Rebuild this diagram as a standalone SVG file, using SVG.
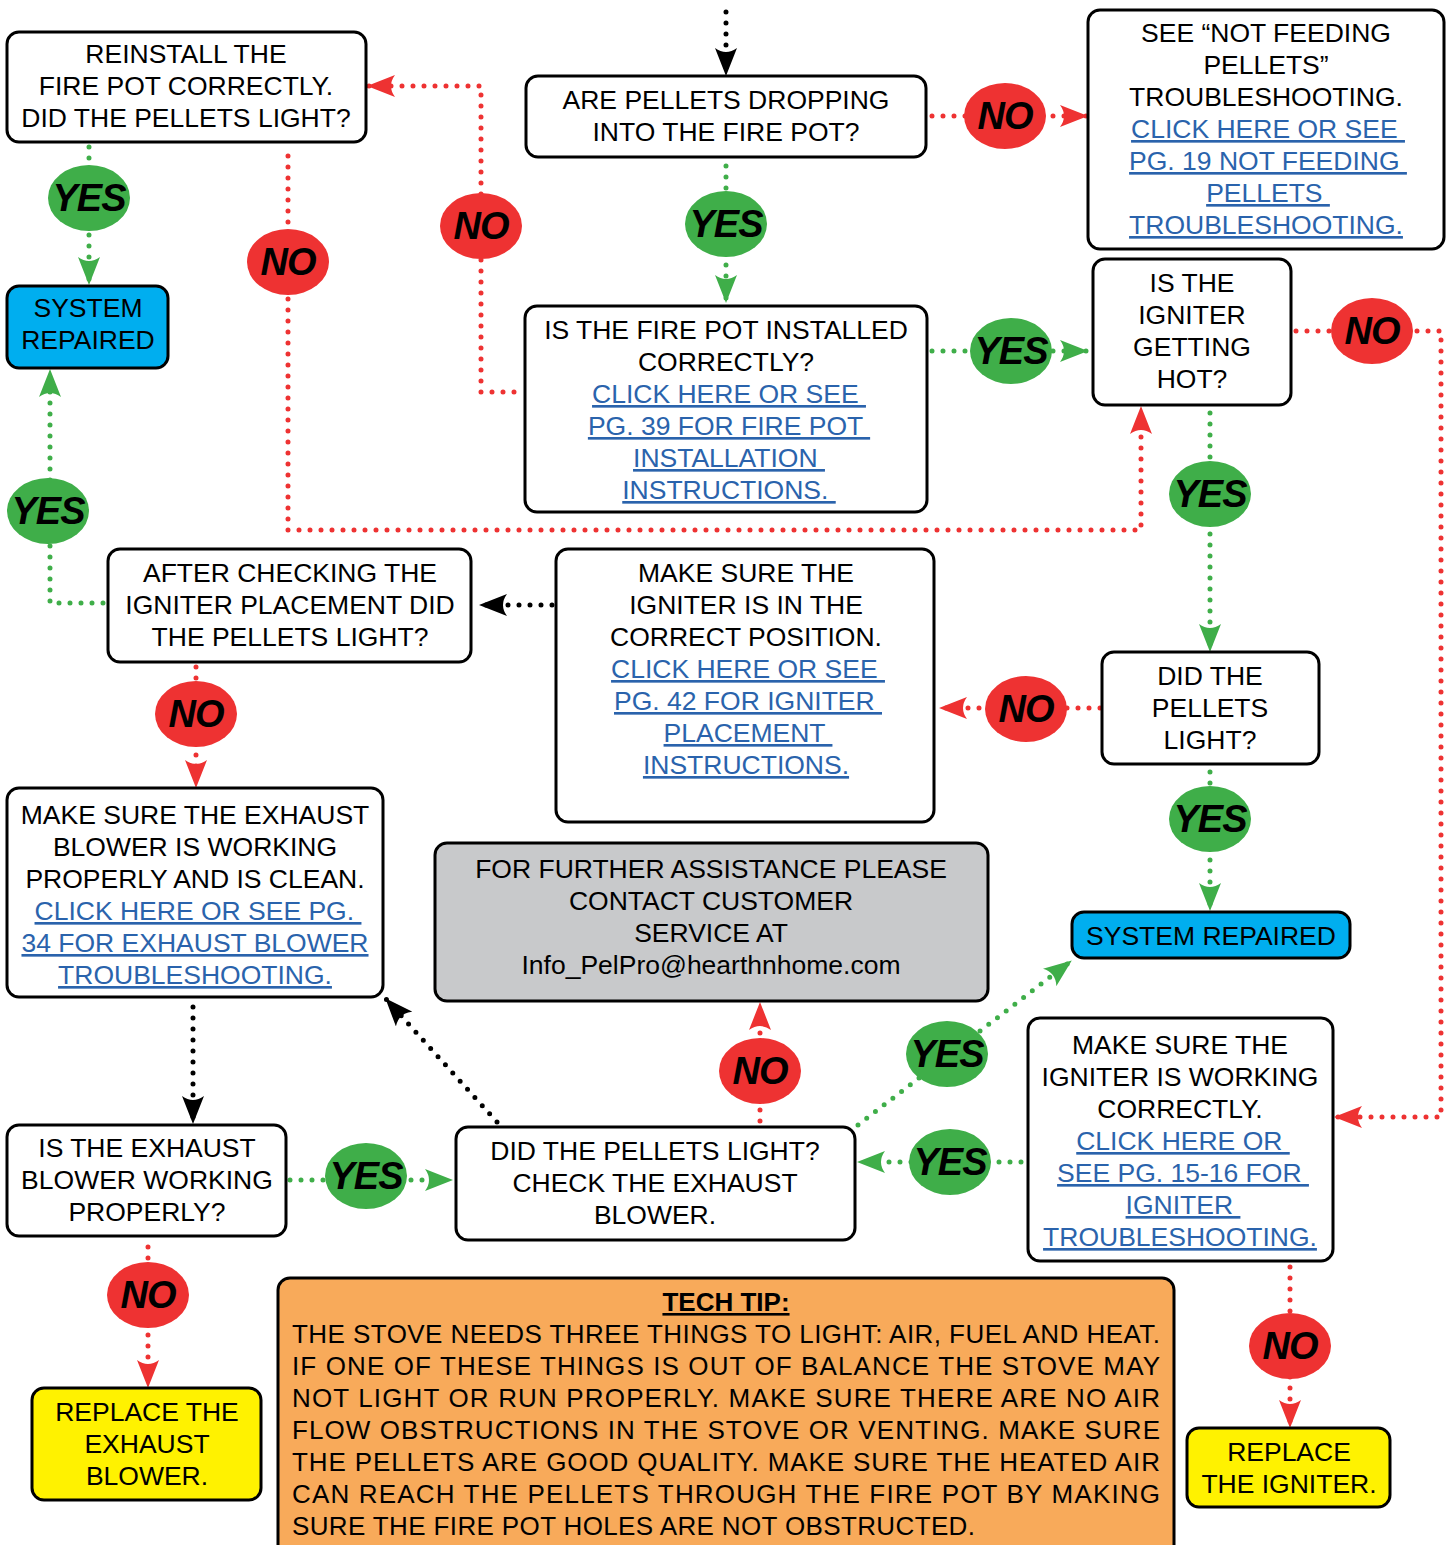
<svg xmlns="http://www.w3.org/2000/svg" width="1449" height="1545" viewBox="0 0 1449 1545">
<style>
.box{fill:#fff;stroke:#000;stroke-width:3}
.blue{fill:#00aeef;stroke:#000;stroke-width:3}
.yel{fill:#fff200;stroke:#000;stroke-width:3}
.gry{fill:#c8c9cb;stroke:#000;stroke-width:3}
.org{fill:#f8aa5a;stroke:#000;stroke-width:3}
.t{font-family:"Liberation Sans",Arial,sans-serif;font-size:26.5px;text-anchor:middle;fill:#000}
.lk{fill:#2a63ac;text-decoration:underline}
.tip{font-family:"Liberation Sans",Arial,sans-serif;font-size:26px;fill:#000}
.lbl{font-family:"Liberation Sans",Arial,sans-serif;font-size:38px;font-weight:bold;font-style:italic;text-anchor:middle;fill:#000;letter-spacing:-1px}
.d{fill:none;stroke-width:5;stroke-linecap:round;stroke-dasharray:0 11}
.k{stroke:#000}
.r{stroke:#ee3232}
.g{stroke:#3fae49}
.ye{fill:#3fae49}
.no{fill:#ee3232}
</style>
<defs>
<marker id="mk" viewBox="0 0 28 22" refX="27" refY="11" markerWidth="28" markerHeight="22" markerUnits="userSpaceOnUse" orient="auto"><path d="M28,11 L0,0 Q8,11 0,22 Z" fill="#000"/></marker>
<marker id="mr" viewBox="0 0 28 22" refX="27" refY="11" markerWidth="28" markerHeight="22" markerUnits="userSpaceOnUse" orient="auto"><path d="M28,11 L0,0 Q8,11 0,22 Z" fill="#ee3232"/></marker>
<marker id="mg" viewBox="0 0 28 22" refX="27" refY="11" markerWidth="28" markerHeight="22" markerUnits="userSpaceOnUse" orient="auto"><path d="M28,11 L0,0 Q8,11 0,22 Z" fill="#3fae49"/></marker>
</defs>
<rect width="1449" height="1545" fill="#fff"/>

<g id="connectors">
<path class="d k" d="M726,12 V75" marker-end="url(#mk)"/>
<path class="d k" d="M552,605 H480" marker-end="url(#mk)"/>
<path class="d k" d="M193,1007 V1123" marker-end="url(#mk)"/>
<path class="d k" d="M497,1122 L386,999" marker-end="url(#mk)"/>
<path class="d r" d="M932,116 H1087" marker-end="url(#mr)"/>
<path class="d r" d="M514,392 H481 V86 H368" marker-end="url(#mr)"/>
<path class="d r" d="M288,156 V530 H1141 V407" marker-end="url(#mr)"/>
<path class="d r" d="M1296,331 H1441 V1117 H1335" marker-end="url(#mr)"/>
<path class="d r" d="M196,667 V787" marker-end="url(#mr)"/>
<path class="d r" d="M1100,708 H940" marker-end="url(#mr)"/>
<path class="d r" d="M760,1121 V1003" marker-end="url(#mr)"/>
<path class="d r" d="M148,1247 V1387" marker-end="url(#mr)"/>
<path class="d r" d="M1290,1267 V1427" marker-end="url(#mr)"/>
<path class="d g" d="M89,147 V284" marker-end="url(#mg)"/>
<path class="d g" d="M726,166 V302" marker-end="url(#mg)"/>
<path class="d g" d="M932,351 H1087" marker-end="url(#mg)"/>
<path class="d g" d="M103,603 H50 V370" marker-end="url(#mg)"/>
<path class="d g" d="M1210,413 V651" marker-end="url(#mg)"/>
<path class="d g" d="M1210,772 V910" marker-end="url(#mg)"/>
<path class="d g" d="M858,1125 L1071,961" marker-end="url(#mg)"/>
<path class="d g" d="M1021,1162 H858" marker-end="url(#mg)"/>
<path class="d g" d="M290,1180 H452" marker-end="url(#mg)"/>
<g id="labels">
<ellipse class="ye" cx="89" cy="198" rx="41" ry="33"/><text class="lbl" x="89" y="211">YES</text>
<ellipse class="no" cx="288" cy="262" rx="41" ry="33"/><text class="lbl" x="288" y="275">NO</text>
<ellipse class="no" cx="481" cy="226" rx="41" ry="33"/><text class="lbl" x="481" y="239">NO</text>
<ellipse class="ye" cx="726" cy="224" rx="41" ry="33"/><text class="lbl" x="726" y="237">YES</text>
<ellipse class="no" cx="1005" cy="116" rx="41" ry="33"/><text class="lbl" x="1005" y="129">NO</text>
<ellipse class="ye" cx="1011" cy="351" rx="41" ry="33"/><text class="lbl" x="1011" y="364">YES</text>
<ellipse class="no" cx="1372" cy="331" rx="41" ry="33"/><text class="lbl" x="1372" y="344">NO</text>
<ellipse class="ye" cx="48" cy="511" rx="41" ry="33"/><text class="lbl" x="48" y="524">YES</text>
<ellipse class="ye" cx="1210" cy="494" rx="41" ry="33"/><text class="lbl" x="1210" y="507">YES</text>
<ellipse class="no" cx="196" cy="714" rx="41" ry="33"/><text class="lbl" x="196" y="727">NO</text>
<ellipse class="no" cx="1026" cy="709" rx="41" ry="33"/><text class="lbl" x="1026" y="722">NO</text>
<ellipse class="ye" cx="1210" cy="819" rx="41" ry="33"/><text class="lbl" x="1210" y="832">YES</text>
<ellipse class="ye" cx="947" cy="1054" rx="41" ry="33"/><text class="lbl" x="947" y="1067">YES</text>
<ellipse class="no" cx="760" cy="1071" rx="41" ry="33"/><text class="lbl" x="760" y="1084">NO</text>
<ellipse class="ye" cx="950" cy="1162" rx="41" ry="33"/><text class="lbl" x="950" y="1175">YES</text>
<ellipse class="ye" cx="366" cy="1176" rx="41" ry="33"/><text class="lbl" x="366" y="1189">YES</text>
<ellipse class="no" cx="148" cy="1295" rx="41" ry="33"/><text class="lbl" x="148" y="1308">NO</text>
<ellipse class="no" cx="1290" cy="1346" rx="41" ry="33"/><text class="lbl" x="1290" y="1359">NO</text>
</g>
</g>

<g id="n-reinstall">
<rect class="box" x="7" y="32" width="359" height="110" rx="12"/>
<text class="t"><tspan x="186" y="63">REINSTALL THE</tspan><tspan x="186" y="95">FIRE POT CORRECTLY.</tspan><tspan x="186" y="127">DID THE PELLETS LIGHT?</tspan></text>
</g>
<g id="n-dropping">
<rect class="box" x="526" y="76" width="400" height="81" rx="12"/>
<text class="t"><tspan x="726" y="109">ARE PELLETS DROPPING</tspan><tspan x="726" y="141">INTO THE FIRE POT?</tspan></text>
</g>
<g id="n-notfeeding">
<rect class="box" x="1088" y="10" width="356" height="239" rx="12"/>
<text class="t" xml:space="preserve"><tspan x="1266" y="42">SEE “NOT FEEDING</tspan><tspan x="1266" y="74">PELLETS”</tspan><tspan x="1266" y="106">TROUBLESHOOTING.</tspan><tspan class="lk" x="1268" y="138">CLICK HERE OR SEE </tspan><tspan class="lk" x="1268" y="170">PG. 19 NOT FEEDING </tspan><tspan class="lk" x="1268" y="202">PELLETS </tspan><tspan class="lk" x="1266" y="234">TROUBLESHOOTING.</tspan></text>
</g>
<g id="n-sysrep1">
<rect class="blue" x="7" y="286" width="161" height="82" rx="12"/>
<text class="t"><tspan x="88" y="317">SYSTEM</tspan><tspan x="88" y="349">REPAIRED</tspan></text>
</g>
<g id="n-firepot">
<rect class="box" x="525" y="306" width="402" height="206" rx="12"/>
<text class="t" xml:space="preserve"><tspan x="726" y="339">IS THE FIRE POT INSTALLED</tspan><tspan x="726" y="371">CORRECTLY?</tspan><tspan class="lk" x="729" y="403">CLICK HERE OR SEE </tspan><tspan class="lk" x="729" y="435">PG. 39 FOR FIRE POT </tspan><tspan class="lk" x="729" y="467">INSTALLATION </tspan><tspan class="lk" x="729" y="499">INSTRUCTIONS. </tspan></text>
</g>
<g id="n-hot">
<rect class="box" x="1093" y="259" width="198" height="146" rx="12"/>
<text class="t"><tspan x="1192" y="292">IS THE</tspan><tspan x="1192" y="324">IGNITER</tspan><tspan x="1192" y="356">GETTING</tspan><tspan x="1192" y="388">HOT?</tspan></text>
</g>
<g id="n-afterchk">
<rect class="box" x="108" y="549" width="363" height="113" rx="12"/>
<text class="t"><tspan x="290" y="582">AFTER CHECKING THE</tspan><tspan x="290" y="614">IGNITER PLACEMENT DID</tspan><tspan x="290" y="646">THE PELLETS LIGHT?</tspan></text>
</g>
<g id="n-position">
<rect class="box" x="556" y="549" width="378" height="273" rx="12"/>
<text class="t" xml:space="preserve"><tspan x="746" y="582">MAKE SURE THE</tspan><tspan x="746" y="614">IGNITER IS IN THE</tspan><tspan x="746" y="646">CORRECT POSITION.</tspan><tspan class="lk" x="748" y="678">CLICK HERE OR SEE </tspan><tspan class="lk" x="748" y="710">PG. 42 FOR IGNITER </tspan><tspan class="lk" x="748" y="742">PLACEMENT </tspan><tspan class="lk" x="746" y="774">INSTRUCTIONS.</tspan></text>
</g>
<g id="n-didlight">
<rect class="box" x="1102" y="652" width="217" height="112" rx="12"/>
<text class="t"><tspan x="1210" y="685">DID THE</tspan><tspan x="1210" y="717">PELLETS</tspan><tspan x="1210" y="749">LIGHT?</tspan></text>
</g>
<g id="n-sysrep2">
<rect class="blue" x="1072" y="912" width="278" height="46" rx="12"/>
<text class="t" x="1211" y="945">SYSTEM REPAIRED</text>
</g>
<g id="n-exhclean">
<rect class="box" x="7" y="788" width="376" height="209" rx="12"/>
<text class="t" xml:space="preserve"><tspan x="195" y="824">MAKE SURE THE EXHAUST</tspan><tspan x="195" y="856">BLOWER IS WORKING</tspan><tspan x="195" y="888">PROPERLY AND IS CLEAN.</tspan><tspan class="lk" x="198" y="920">CLICK HERE OR SEE PG. </tspan><tspan class="lk" x="195" y="952">34 FOR EXHAUST BLOWER</tspan><tspan class="lk" x="195" y="984">TROUBLESHOOTING.</tspan></text>
</g>
<g id="n-contact">
<rect class="gry" x="435" y="843" width="553" height="158" rx="12"/>
<text class="t"><tspan x="711" y="878">FOR FURTHER ASSISTANCE PLEASE</tspan><tspan x="711" y="910">CONTACT CUSTOMER</tspan><tspan x="711" y="942">SERVICE AT</tspan><tspan x="711" y="974">Info_PelPro@hearthnhome.com</tspan></text>
</g>
<g id="n-exhworking">
<rect class="box" x="7" y="1125" width="279" height="111" rx="12"/>
<text class="t"><tspan x="147" y="1157">IS THE EXHAUST</tspan><tspan x="147" y="1189">BLOWER WORKING</tspan><tspan x="147" y="1221">PROPERLY?</tspan></text>
</g>
<g id="n-checkexh">
<rect class="box" x="456" y="1127" width="399" height="113" rx="12"/>
<text class="t"><tspan x="655" y="1160">DID THE PELLETS LIGHT?</tspan><tspan x="655" y="1192">CHECK THE EXHAUST</tspan><tspan x="655" y="1224">BLOWER.</tspan></text>
</g>
<g id="n-ignworking">
<rect class="box" x="1028" y="1018" width="305" height="243" rx="12"/>
<text class="t" xml:space="preserve"><tspan x="1180" y="1054">MAKE SURE THE</tspan><tspan x="1180" y="1086">IGNITER IS WORKING</tspan><tspan x="1180" y="1118">CORRECTLY.</tspan><tspan class="lk" x="1183" y="1150">CLICK HERE OR </tspan><tspan class="lk" x="1183" y="1182">SEE PG. 15-16 FOR </tspan><tspan class="lk" x="1183" y="1214">IGNITER </tspan><tspan class="lk" x="1180" y="1246">TROUBLESHOOTING.</tspan></text>
</g>
<g id="n-replexh">
<rect class="yel" x="32" y="1388" width="229" height="112" rx="12"/>
<text class="t"><tspan x="147" y="1421">REPLACE THE</tspan><tspan x="147" y="1453">EXHAUST</tspan><tspan x="147" y="1485">BLOWER.</tspan></text>
</g>
<g id="n-replign">
<rect class="yel" x="1187" y="1428" width="203" height="79" rx="12"/>
<text class="t"><tspan x="1289" y="1461">REPLACE</tspan><tspan x="1289" y="1493">THE IGNITER.</tspan></text>
</g>
<g id="n-techtip">
<rect class="org" x="278" y="1278" width="896" height="290" rx="12"/>
<text class="tip" x="726" y="1311" text-anchor="middle" font-weight="bold" text-decoration="underline">TECH TIP:</text>
<text class="tip" x="292" y="1343" textLength="868" lengthAdjust="spacing">THE STOVE NEEDS THREE THINGS TO LIGHT: AIR, FUEL AND HEAT.</text>
<text class="tip" x="292" y="1375" textLength="868" lengthAdjust="spacing">IF ONE OF THESE THINGS IS OUT OF BALANCE THE STOVE MAY</text>
<text class="tip" x="292" y="1407" textLength="868" lengthAdjust="spacing">NOT LIGHT OR RUN PROPERLY. MAKE SURE THERE ARE NO AIR</text>
<text class="tip" x="292" y="1439" textLength="868" lengthAdjust="spacing">FLOW OBSTRUCTIONS IN THE STOVE OR VENTING. MAKE SURE</text>
<text class="tip" x="292" y="1471" textLength="868" lengthAdjust="spacing">THE PELLETS ARE GOOD QUALITY. MAKE SURE THE HEATED AIR</text>
<text class="tip" x="292" y="1503" textLength="868" lengthAdjust="spacing">CAN REACH THE PELLETS THROUGH THE FIRE POT BY MAKING</text>
<text class="tip" x="292" y="1535" textLength="683" lengthAdjust="spacing">SURE THE FIRE POT HOLES ARE NOT OBSTRUCTED.</text>
</g>
</svg>
